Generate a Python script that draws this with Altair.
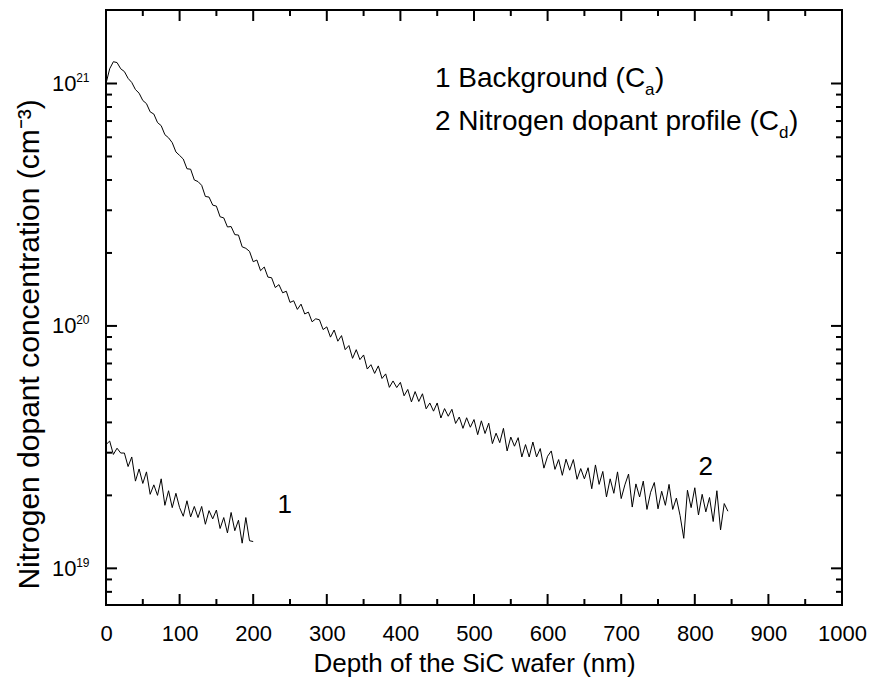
import altair as alt
import pandas as pd

# ---------------- data (concentrations in units of 1e19 cm^-3) ----------------
depth_bg = list(range(0, 201, 5))
conc_bg = [3.24, 3.35, 2.95, 3.13, 2.99, 2.99, 2.63, 2.88, 2.29, 2.57,
           2.24, 2.50, 2.02, 2.21, 2.00, 2.34, 1.82, 2.09, 1.78, 2.04,
           1.78, 1.64, 1.90, 1.63, 1.80, 1.62, 1.80, 1.52, 1.73, 1.60,
           1.74, 1.46, 1.62, 1.40, 1.70, 1.43, 1.58, 1.27, 1.62, 1.30, 1.29]

depth_dop = list(range(0, 846, 5))
conc_dop = [100, 115, 123, 122, 115, 112, 105, 101, 94.4, 91.2, 85.1,
            82.6, 76.4, 74.8, 69.0, 67.0, 61.5, 59.7, 57.0, 52.2, 50.5,
            48.8, 44.5, 44.3, 40.0, 39.4, 38.0, 34.2, 34.0, 31.5, 31.2,
            28.2, 27.9, 25.6, 25.7, 23.8, 23.7, 21.2, 20.9, 20.3, 18.4,
            18.7, 16.9, 17.5, 15.9, 15.8, 14.4, 14.8, 13.7, 13.9, 12.5,
            12.7, 11.7, 12.3, 11.2, 11.4, 10.4, 10.7, 10.6, 9.66, 9.91,
            8.99, 9.62, 8.65, 9.12, 7.98, 8.30, 7.35, 7.98, 7.26, 7.59,
            6.64, 6.92, 6.37, 6.84, 6.07, 6.34, 5.58, 5.93, 5.57, 5.85,
            5.15, 5.47, 4.86, 5.36, 4.88, 5.25, 4.55, 4.81, 4.45, 4.81,
            4.17, 4.56, 4.24, 4.53, 3.96, 4.21, 3.78, 4.18, 3.82, 4.11,
            3.56, 4.06, 3.60, 3.97, 3.27, 3.61, 3.30, 3.78, 3.05, 3.48,
            3.19, 3.46, 2.88, 3.24, 2.88, 3.32, 2.88, 3.12, 2.59, 2.90,
            3.05, 2.56, 2.81, 2.42, 2.82, 2.54, 2.81, 2.33, 2.58, 2.34,
            2.60, 2.13, 2.67, 2.22, 2.51, 1.97, 2.34, 2.04, 2.50, 1.94,
            2.21, 2.45, 1.79, 2.23, 1.97, 2.29, 1.75, 2.06, 2.26, 1.76,
            2.08, 1.82, 2.22, 1.75, 1.95, 1.65, 1.33, 2.10, 1.78, 2.15,
            1.66, 2.02, 1.71, 1.96, 1.56, 2.09, 1.44, 1.85, 1.72]

x_major = [0, 100, 200, 300, 400, 500, 600, 700, 800, 900, 1000]
x_minor = [50, 150, 250, 350, 450, 550, 650, 750, 850, 950]
y_major = [1e19, 1e20, 1e21]
y_major_exp = ["19", "20", "21"]
y_minor = [8e18, 9e18,
           2e19, 3e19, 4e19, 5e19, 6e19, 7e19, 8e19, 9e19,
           2e20, 3e20, 4e20, 5e20, 6e20, 7e20, 8e20, 9e20]

curve_labels = ["1", "2"]
curve_label_x = [243, 815]
curve_label_y = [1.69e19, 2.43e19]

legend_main = ["1 Background (C", "2 Nitrogen dopant profile (C"]
legend_sub = ["a", "d"]
legend_x = [447, 447]
legend_y = [9.67e20, 6.43e20]

x_title = "Depth of the SiC wafer (nm)"
y_title = "Nitrogen dopant concentration (cm⁻³)"

# ---------------- tables ----------------
df_bg = pd.DataFrame({"depth": depth_bg, "conc": [v * 1e19 for v in conc_bg]})
df_dop = pd.DataFrame({"depth": depth_dop, "conc": [v * 1e19 for v in conc_dop]})
df_lab = pd.DataFrame({"depth": curve_label_x, "conc": curve_label_y, "t": curve_labels})
df_leg = pd.DataFrame({"depth": legend_x, "conc": legend_y, "t": legend_main, "s": legend_sub})
df_xmaj = pd.DataFrame({"v": x_major})
df_xmin = pd.DataFrame({"v": x_minor})
df_ymaj = pd.DataFrame({"v": y_major})
df_ymin = pd.DataFrame({"v": y_minor})

FONT = "Liberation Sans"
W, H = 736, 595
MAJ, MIN = 11, 6

xs = alt.Scale(domain=[0, 1000], nice=False, zero=False)
ys = alt.Scale(type="log", domain=[7.06e18, 2.01e21], nice=False)

base_ax = dict(domain=False, grid=False, ticks=False, tickSize=0,
               labelColor="black", titleColor="black")

exp_expr = " : ".join(
    [f"datum.value >= {v:.0e} ? '{e}'" for v, e in zip(reversed(y_major), reversed(y_major_exp))]
) + " : ''"

x_axis = alt.Axis(orient="bottom", values=x_major, format="d",
                  labelFont=FONT, labelFontSize=22, labelPadding=35,
                  labelBaseline="alphabetic", labelFlush=False, labelOverlap=False,
                  title=x_title, titleFont=FONT, titleFontSize=26, titleFontWeight="normal",
                  titleX=W / 2, titleY=66, titleAlign="center", titleBaseline="alphabetic",
                  **base_ax)
y_axis = alt.Axis(orient="left", values=y_major, labelExpr="'10'",
                  labelFont=FONT, labelFontSize=22, labelPadding=30,
                  labelBaseline="middle", labelFlush=False, labelOverlap=False,
                  title=y_title, titleFont=FONT, titleFontSize=30, titleFontWeight="normal",
                  titleX=-68, titleY=334, titleAngle=270, titleAlign="center",
                  titleBaseline="alphabetic", **base_ax)
y_axis_exp = alt.Axis(orient="left", values=y_major, labelExpr=exp_expr,
                      labelFont=FONT, labelFontSize=12, labelPadding=17, labelOffset=-6,
                      labelBaseline="middle", labelFlush=False, labelOverlap=False,
                      title=None, **base_ax)


def enc(axx, axy):
    return dict(x=alt.X("depth:Q", scale=xs, axis=axx),
                y=alt.Y("conc:Q", scale=ys, axis=axy))


dop_line = alt.Chart(df_dop).mark_line(color="black", strokeWidth=1).encode(
    **enc(x_axis, y_axis))
bg_line = alt.Chart(df_bg).mark_line(color="black", strokeWidth=1).encode(
    **enc(None, y_axis_exp))


def xticks(df, length, top):
    return alt.Chart(df).mark_rule(color="black", strokeWidth=2).encode(
        x=alt.X("v:Q", scale=xs, axis=None),
        y=alt.value(0 if top else H), y2=alt.value(length if top else H - length))


def yticks(df, length, right):
    return alt.Chart(df).mark_rule(color="black", strokeWidth=2).encode(
        y=alt.Y("v:Q", scale=ys, axis=None),
        x=alt.value(W if right else 0), x2=alt.value(W - length if right else length))


tick_layers = [xticks(df_xmaj, MAJ, False), xticks(df_xmin, MIN, False),
               xticks(df_xmaj, MAJ, True), xticks(df_xmin, MIN, True),
               yticks(df_ymaj, MAJ, False), yticks(df_ymin, MIN, False),
               yticks(df_ymaj, MAJ, True), yticks(df_ymin, MIN, True)]

labels = alt.Chart(df_lab).mark_text(font=FONT, fontSize=26, color="black",
                                     align="center", baseline="alphabetic").encode(
    **enc(None, None), text="t:N")

leg_main = alt.Chart(df_leg).mark_text(font=FONT, fontSize=28, color="black",
                                       align="left", baseline="alphabetic").encode(
    **enc(None, None), text="t:N")
leg_sub1 = alt.Chart(df_leg.iloc[[0]]).mark_text(font=FONT, fontSize=17, color="black",
                                                 align="left", baseline="alphabetic",
                                                 dx=210, dy=8).encode(**enc(None, None), text="s:N")
leg_sub2 = alt.Chart(df_leg.iloc[[1]]).mark_text(font=FONT, fontSize=17, color="black",
                                                 align="left", baseline="alphabetic",
                                                 dx=344, dy=8).encode(**enc(None, None), text="s:N")
leg_par1 = alt.Chart(df_leg.iloc[[0]]).mark_text(font=FONT, fontSize=28, color="black",
                                                 align="left", baseline="alphabetic",
                                                 dx=220).encode(**enc(None, None), text=alt.value(")"))
leg_par2 = alt.Chart(df_leg.iloc[[1]]).mark_text(font=FONT, fontSize=28, color="black",
                                                 align="left", baseline="alphabetic",
                                                 dx=354).encode(**enc(None, None), text=alt.value(")"))

chart = alt.layer(
    dop_line, bg_line, *tick_layers, labels, leg_main, leg_sub1, leg_sub2, leg_par1, leg_par2
).resolve_axis(x="independent", y="independent").properties(
    width=W, height=H,
    autosize=alt.AutoSizeParams(type="none"),
    padding={"left": 106, "top": 10, "right": 31, "bottom": 87},
    background="white",
).configure_view(stroke="black", strokeWidth=2)

chart.save("out.html", embed_options={"renderer": "svg", "actions": False})
